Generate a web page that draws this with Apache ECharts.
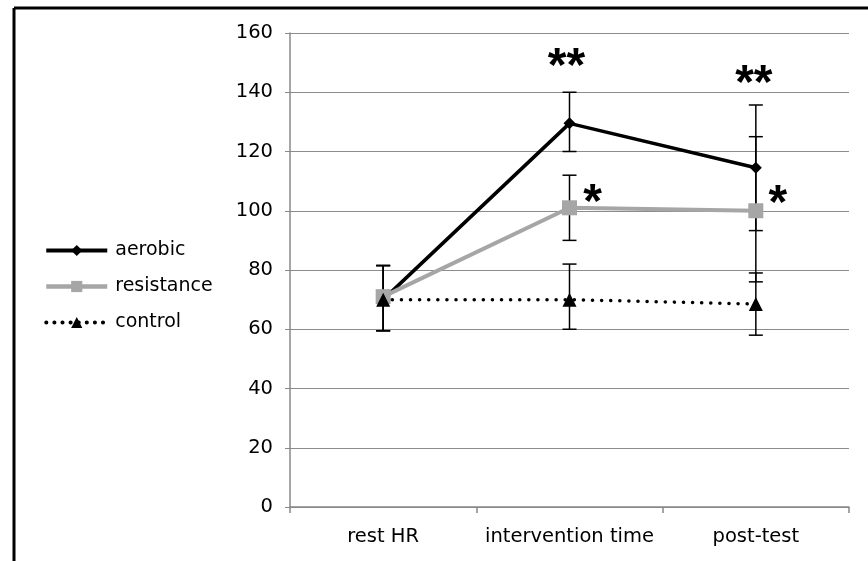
<!DOCTYPE html>
<html><head><meta charset="utf-8">
<script src="https://cdn.jsdelivr.net/npm/echarts@6/dist/echarts.min.js"></script>
<style>html,body{margin:0;padding:0;background:#fff}#c{width:868px;height:561px}</style>
</head><body><div id="c"></div>
<script>
const categories = ['rest HR', 'intervention time', 'post-test'];
const yTicks = [0, 20, 40, 60, 80, 100, 120, 140, 160];
const aerobic = [70, 129.5, 114.5];
const resistance = [71, 101, 100];
const control = [70, 70, 68.5];
const aerobicErr = [[59.5, 81.5], [120, 140], [93.3, 135.7]];
const resistanceErr = [[59.5, 81.5], [90, 112], [76, 125]];
const controlErr = [[59.5, 81.5], [60, 82], [58, 79]];
// [category index, value, text, pixel dx]
const annotations = [[1, 151.5, '**', -3], [1, 105.7, '*', 23], [2, 145.8, '**', -2], [2, 105.3, '*', 22]];

const FONT = '"DejaVu Sans", sans-serif';
const STARFONT = '"Liberation Sans", Arial, sans-serif';
const chart = echarts.init(document.getElementById('c'), null, {renderer: 'canvas'});

function errSeries(name, errs) {
  return {
    type: 'custom', name: name + ' err', z: 1, silent: true,
    data: errs.map((e, i) => [i, e[0], e[1]]),
    renderItem: function (params, api) {
      const lo = api.coord([api.value(0), api.value(1)]);
      const hi = api.coord([api.value(0), api.value(2)]);
      const w = 7;
      const st = {stroke: '#000', lineWidth: 1.5};
      return {type: 'group', children: [
        {type: 'line', shape: {x1: lo[0], y1: lo[1], x2: hi[0], y2: hi[1]}, style: st},
        {type: 'line', shape: {x1: lo[0] - w, y1: lo[1], x2: lo[0] + w, y2: lo[1]}, style: st},
        {type: 'line', shape: {x1: hi[0] - w, y1: hi[1], x2: hi[0] + w, y2: hi[1]}, style: st}
      ]};
    }
  };
}

const option = {
  animation: false,
  backgroundColor: '#fff',
  grid: {left: 290, right: 19, top: 33, bottom: 54},
  legend: {
    orient: 'vertical', left: 39, top: 236, itemWidth: 61, itemHeight: 14, itemGap: 17,
    data: [
      {name: 'aerobic', lineStyle: {width: 4}},
      {name: 'resistance', lineStyle: {width: 4.5}},
      {name: 'control', lineStyle: {width: 4, type: [0.1, 8], cap: 'round'}}
    ],
    textStyle: {fontFamily: FONT, fontSize: 19, color: '#000', padding: [0, 0, 0, 3]}
  },
  xAxis: {
    type: 'category', data: categories, boundaryGap: true,
    axisLine: {lineStyle: {color: '#888', width: 1.5}},
    axisTick: {show: true, interval: 0, length: 6, lineStyle: {color: '#888', width: 1.5}},
    axisLabel: {interval: 0, fontFamily: FONT, fontSize: 19.5, color: '#000', margin: 20}
  },
  yAxis: {
    type: 'value', min: 0, max: 160, interval: 20,
    axisLine: {show: true, lineStyle: {color: '#888', width: 1.5}},
    axisTick: {show: true, length: 5, lineStyle: {color: '#888'}},
    splitLine: {lineStyle: {color: '#8c8c8c', width: 1.2}},
    axisLabel: {fontFamily: FONT, fontSize: 19.5, color: '#000', margin: 17,
      formatter: v => yTicks.includes(v) ? String(v) : ''}
  },
  series: [
    errSeries('aerobic', aerobicErr),
    errSeries('resistance', resistanceErr),
    errSeries('control', controlErr),
    {name: 'aerobic', type: 'line', data: aerobic, z: 3, symbol: 'diamond', symbolSize: 12,
      itemStyle: {color: '#000'}, lineStyle: {color: '#000', width: 3.5}},
    {name: 'resistance', type: 'line', data: resistance, z: 4, symbol: 'rect', symbolSize: 15,
      itemStyle: {color: '#a6a6a6'}, lineStyle: {color: '#a6a6a6', width: 4}},
    {name: 'control', type: 'line', data: control, z: 5, symbol: 'triangle', symbolSize: 14,
      itemStyle: {color: '#000'}, lineStyle: {color: '#000', width: 3.5, type: [0.1, 9], cap: 'round'}},
    {
      type: 'custom', name: 'annot', z: 6, silent: true,
      data: annotations.map(a => [a[0], a[1], a[3], a[2]]),
      renderItem: function (params, api) {
        const p = api.coord([api.value(0), api.value(1)]);
        const txt = annotations[params.dataIndex][2];
        const fs = 48;
        return {type: 'text', x: p[0] + api.value(2), y: p[1] + fs * 0.2,
          style: {text: txt, font: 'bold ' + fs + 'px ' + STARFONT, fill: '#000', align: 'center', verticalAlign: 'middle'}};
      }
    }
  ],
  graphic: [
    {type: 'line', shape: {x1: 14, y1: 8, x2: 868, y2: 8}, style: {stroke: '#000', lineWidth: 3}},
    {type: 'line', shape: {x1: 14, y1: 8, x2: 14, y2: 561}, style: {stroke: '#000', lineWidth: 3}}
  ]
};
chart.setOption(option);
</script></body></html>
